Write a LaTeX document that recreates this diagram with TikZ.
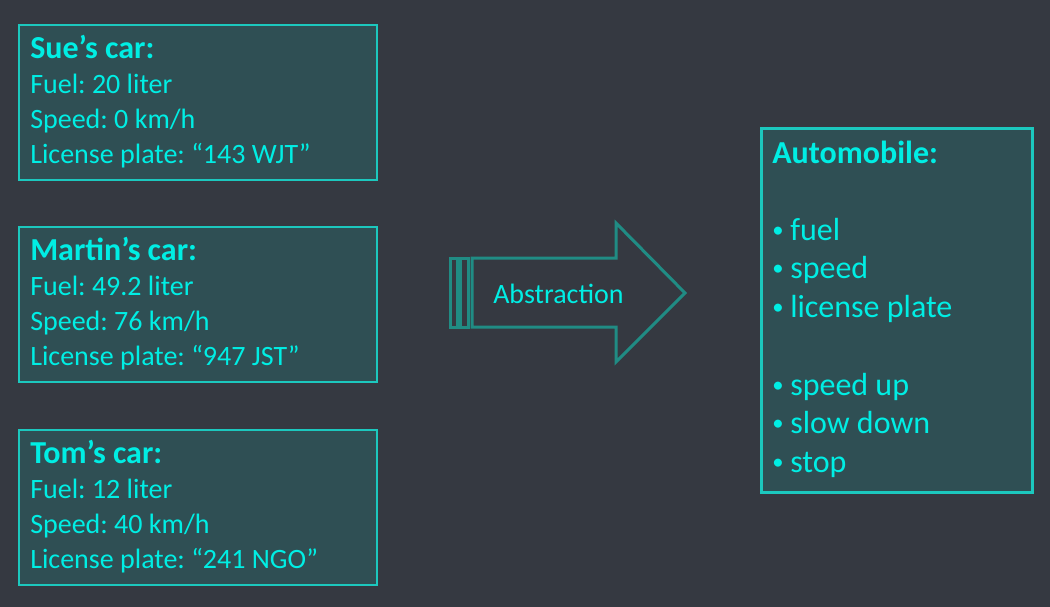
\documentclass[tikz,border=0pt]{standalone}
\usepackage{fontspec}
\setmainfont{Carlito}
\frenchspacing
\definecolor{bg}{RGB}{53,57,65}
\definecolor{boxfill}{RGB}{47,79,84}
\definecolor{boxline}{RGB}{28,200,190}
\definecolor{txt}{RGB}{0,238,228}
\definecolor{arrowc}{RGB}{32,140,132}
\begin{document}
\begin{tikzpicture}[x=0.75pt,y=-0.75pt,
  carbox/.style={draw=boxline,fill=boxfill,line width=1.5pt,minimum width=268.5pt,minimum height=116.25pt,inner sep=0pt,anchor=north west},
  autobox/.style={draw=boxline,fill=boxfill,line width=2.25pt,minimum width=203.25pt,minimum height=273pt,inner sep=0pt,anchor=north west},
  line/.style={text=txt,font=\fontsize{21}{25}\selectfont,inner sep=0pt,anchor=base west},
  bline/.style={line,font=\fontsize{24}{29}\selectfont\bfseries},
  aline/.style={text=txt,font=\fontsize{24}{29}\selectfont,inner sep=0pt,anchor=base west},
  abline/.style={aline,font=\fontsize{24}{29}\selectfont\bfseries},
  bul/.style={text=txt,font=\fontsize{17}{20}\selectfont,inner sep=0pt,anchor=base west},
  arrowline/.style={draw=arrowc,line width=2.25pt,line join=miter}]
\fill[bg] (0,0) rectangle (1050,607);
\useasboundingbox (0,0) rectangle (1050,607);
% car boxes
\node[carbox] (sue) at (18,24) {};
\node[carbox] (martin) at (18,226) {};
\node[carbox] (tom) at (18,429) {};
\node[bline] (sue1) at (30,58) {Sue’s car:};
\node[line] (sue2) at (30,93) {Fuel: 20 liter};
\node[line] (sue3) at (30,128) {Speed: 0 km/h};
\node[line] (sue4) at (30,163) {License plate: “143 WJT”};
\node[bline] (mar1) at (30,260) {Martin’s car:};
\node[line] (mar2) at (30,295) {Fuel: 49.2 liter};
\node[line] (mar3) at (30,330) {Speed: 76 km/h};
\node[line] (mar4) at (30,365) {License plate: “947 JST”};
\node[bline] (tom1) at (30,463) {Tom’s car:};
\node[line] (tom2) at (30,498) {Fuel: 12 liter};
\node[line] (tom3) at (30,533) {Speed: 40 km/h};
\node[line] (tom4) at (30,568) {License plate: “241 NGO”};
% automobile box
\node[autobox] (auto) at (760,127) {};
\node[abline] (a0) at (772,163) {Automobile:};
\foreach \y/\t [count=\i] in {240/fuel,278.5/speed,317/license plate,395/speed up,433.5/slow down,472/stop}{
  \node[bul] (b\i) at (772,\y-3) {•};
  \node[aline] (a\i) at (790,\y) {\t};
}
% abstraction arrow
\draw[arrowline] (472,258) -- (616,258) -- (616,223) -- (685,293) -- (616,362) -- (616,327) -- (472,327) -- cycle;
\draw[arrowline] (450,258) rectangle (457,327);
\draw[arrowline] (460,258) rectangle (468,327);
\node[line] (abs) at (493,303) {Abstraction};
\end{tikzpicture}
\end{document}
